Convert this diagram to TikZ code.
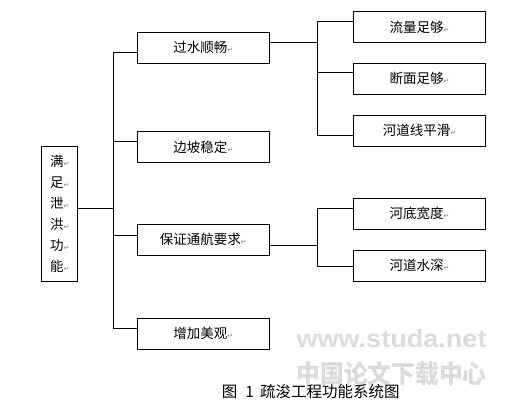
\documentclass[tikz,border=0pt]{standalone}
\usepackage{fontspec}
\usepackage{graphicx}
\newfontfamily\cjk{Noto Sans CJK SC}
\newfontfamily\symfont{DejaVu Sans}
\newfontfamily\wmfont{Liberation Sans}
\newcommand\retmark{{\symfont\fontsize{7}{7}\selectfont\color{gray}↵}}
\begin{document}
\begin{tikzpicture}[x=1pt,y=-1pt,
  box/.style={draw=black,line width=1pt,minimum width=132pt,minimum height=31pt,inner sep=0pt,
    font=\cjk\fontsize{13.5}{16}\selectfont},
  link/.style={line width=1pt}]
\useasboundingbox (0,0) rectangle (513,408);
% watermark
\node[text=gray!28,inner sep=0pt] (wm1) at (391.5,339) {\resizebox{190pt}{18pt}{\wmfont\bfseries www.studa.net}};
\node[text=gray!28,inner sep=0pt] (wm2) at (391.5,374) {\resizebox{190pt}{22pt}{\cjk\bfseries 中国论文下载中心}};
% main node
\node[draw=black,line width=1pt,minimum width=36pt,minimum height=135pt,inner sep=0pt,align=center,
  font=\cjk\fontsize{13.5}{21}\selectfont] (main) at (59.7,213.5)
  {满\retmark\\足\retmark\\泄\retmark\\洪\retmark\\功\retmark\\能\retmark};
% second level
\node[box] (b1) at (203.3,47.5) {过水顺畅\retmark};
\node[box] (b2) at (203.3,147) {边坡稳定\retmark};
\node[box] (b3) at (203.3,239.8) {保证通航要求\retmark};
\node[box] (b4) at (203.3,333.8) {增加美观\retmark};
% third level
\node[box] (r1) at (419.5,27) {流量足够\retmark};
\node[box] (r2) at (419.5,78.8) {断面足够\retmark};
\node[box] (r3) at (419.5,130.8) {河道线平滑\retmark};
\node[box] (r4) at (419.5,213.8) {河底宽度\retmark};
\node[box] (r5) at (419.5,265.7) {河道水深\retmark};
% trunk
\coordinate (tA) at (113.3,52.3);
\coordinate (tB) at (113.3,328);
\draw[link] (tA) -- (tB);
\draw[link] ([yshift=5.2pt]main.east) -- +(35.6pt,0);
\draw[link] ([yshift=-4.8pt]b1.west) -- (tA);
\draw[link] ([yshift=5.3pt]b2.west) -- +(-24pt,0);
\draw[link] ([yshift=4.8pt]b3.west) -- +(-24pt,0);
\draw[link] ([yshift=5.8pt]b4.west) -- (tB);
% upper branch
\coordinate (uA) at (317.3,21.7);
\coordinate (uB) at (317.3,135);
\draw[link] (uA) -- (uB);
\draw[link] ([yshift=5.2pt]b1.east) -- +(48pt,0);
\draw[link] ([yshift=5.3pt]r1.west) -- (uA);
\draw[link] ([yshift=6.1pt]r2.west) -- +(-36pt,0);
\draw[link] ([yshift=-4.2pt]r3.west) -- (uB);
% lower branch
\coordinate (lA) at (317.3,208.3);
\coordinate (lB) at (317.3,266.7);
\draw[link] (lA) -- (lB);
\draw[link] ([yshift=-5.9pt]b3.east) -- +(48pt,0);
\draw[link] ([yshift=5.5pt]r4.west) -- (lA);
\draw[link] ([yshift=-1pt]r5.west) -- (lB);
% caption
\node[anchor=west,inner sep=0pt,font=\cjk\fontsize{15.5}{18}\selectfont] (cap) at (221.7,392)
  {图\hspace{8pt}1\hspace{6pt}疏浚工程功能系统图};
\end{tikzpicture}
\end{document}
